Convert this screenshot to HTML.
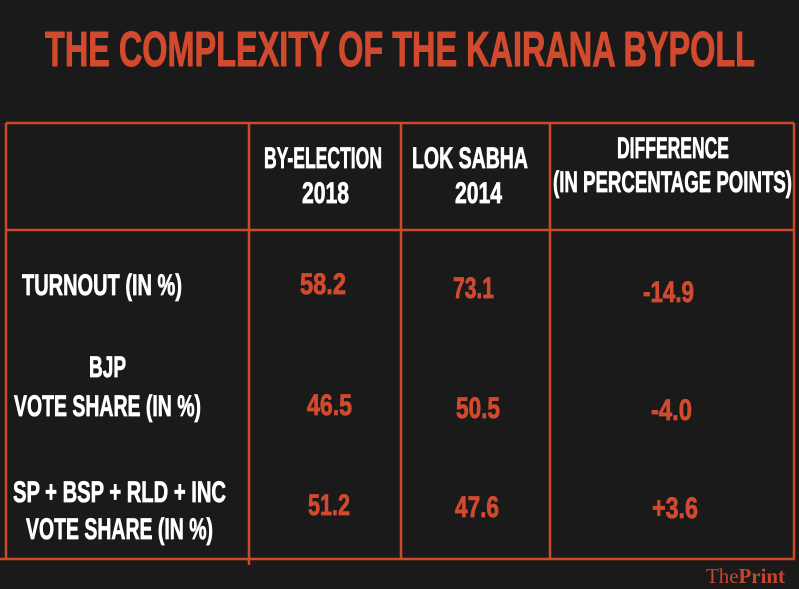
<!DOCTYPE html>
<html><head><meta charset="utf-8"><style>
html,body{margin:0;padding:0;background:#1b1a1a;}
svg{display:block;}
text{font-family:"Liberation Sans",sans-serif;font-weight:bold;}
.w{fill:#ffffff;stroke:#ffffff;stroke-width:0.8px;font-size:30px;}
.r{fill:#d24a2e;stroke:#d24a2e;stroke-width:0.8px;font-size:30px;}
</style></head><body>
<svg width="799" height="589" viewBox="0 0 799 589">
<rect width="799" height="589" fill="#1b1a1a"/>
<text x="45" y="66" textLength="710" lengthAdjust="spacingAndGlyphs" style="font-size:49px;fill:#d24a2e;stroke:#d24a2e;stroke-width:1px">THE COMPLEXITY OF THE KAIRANA BYPOLL</text>
<g stroke="#cc4a2b" stroke-width="2.5" fill="none">
<line x1="6" y1="123" x2="794" y2="123"/>
<line x1="6" y1="230" x2="794" y2="230"/>
<line x1="0" y1="559" x2="795" y2="559"/>
<line x1="6" y1="123" x2="6" y2="559"/>
<line x1="794" y1="123" x2="794" y2="559"/>
<line x1="249" y1="123" x2="249" y2="565"/>
<line x1="401" y1="123" x2="401" y2="559"/>
<line x1="550" y1="123" x2="550" y2="559"/>
</g>
<g>
<text class="w" x="264" y="168" textLength="118" lengthAdjust="spacingAndGlyphs">BY-ELECTION</text>
<text class="w" x="302" y="203" textLength="47" lengthAdjust="spacingAndGlyphs">2018</text>
<text class="w" x="412" y="168" textLength="116" lengthAdjust="spacingAndGlyphs">LOK SABHA</text>
<text class="w" x="455" y="203" textLength="47" lengthAdjust="spacingAndGlyphs">2014</text>
<text class="w" x="617" y="158" textLength="112" lengthAdjust="spacingAndGlyphs">DIFFERENCE</text>
<text class="w" x="553" y="192" textLength="239" lengthAdjust="spacingAndGlyphs">(IN PERCENTAGE POINTS)</text>
</g>
<g>
<text class="w" x="22" y="295" textLength="160" lengthAdjust="spacingAndGlyphs">TURNOUT (IN %)</text>
<text class="r" x="300" y="294" textLength="46" lengthAdjust="spacingAndGlyphs">58.2</text>
<text class="r" x="453" y="298" textLength="41" lengthAdjust="spacingAndGlyphs">73.1</text>
<text class="r" x="643" y="302" textLength="51" lengthAdjust="spacingAndGlyphs">-14.9</text>
</g>
<g>
<text class="w" x="89" y="377" textLength="37" lengthAdjust="spacingAndGlyphs">BJP</text>
<text class="w" x="14" y="416" textLength="187" lengthAdjust="spacingAndGlyphs">VOTE SHARE (IN %)</text>
<text class="r" x="307" y="415" textLength="45" lengthAdjust="spacingAndGlyphs">46.5</text>
<text class="r" x="456" y="418" textLength="44" lengthAdjust="spacingAndGlyphs">50.5</text>
<text class="r" x="651" y="420" textLength="41" lengthAdjust="spacingAndGlyphs">-4.0</text>
</g>
<g>
<text class="w" x="13" y="502" textLength="213" lengthAdjust="spacingAndGlyphs">SP + BSP + RLD + INC</text>
<text class="w" x="26" y="539" textLength="187" lengthAdjust="spacingAndGlyphs">VOTE SHARE (IN %)</text>
<text class="r" x="308" y="515" textLength="42" lengthAdjust="spacingAndGlyphs">51.2</text>
<text class="r" x="455" y="517" textLength="44" lengthAdjust="spacingAndGlyphs">47.6</text>
<text class="r" x="652" y="518" textLength="46" lengthAdjust="spacingAndGlyphs">+3.6</text>
</g>
<text x="706" y="583" textLength="79" lengthAdjust="spacingAndGlyphs" style="font-family:'Liberation Serif',serif;font-size:21px;fill:#c8452b;font-weight:normal">The<tspan font-weight="bold">Print</tspan></text>
</svg>
</body></html>
